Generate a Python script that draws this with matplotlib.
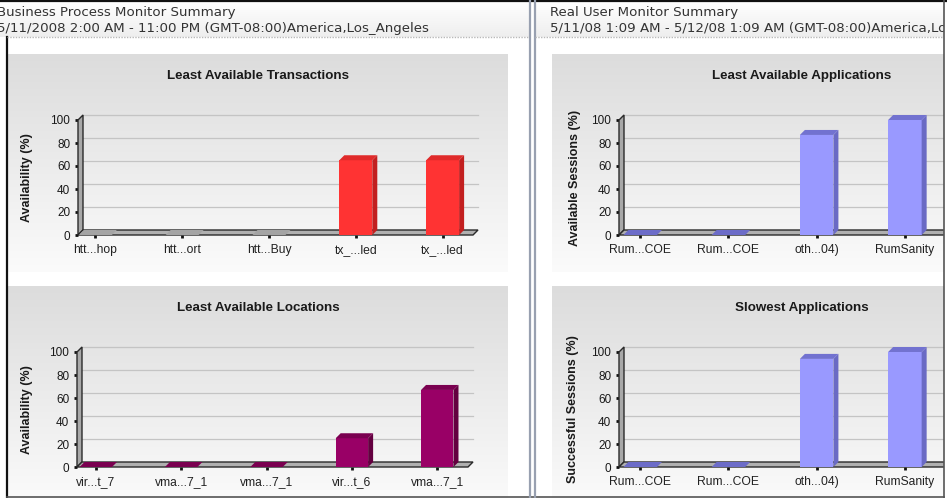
import numpy as np
import matplotlib
matplotlib.use("Agg")
import matplotlib.pyplot as plt
from matplotlib.patches import Polygon, Rectangle
from matplotlib.colors import to_rgb

# ---------------- data ----------------
txn_labels = ["htt...hop", "htt...ort", "htt...Buy", "tx_...led", "tx_...led"]
txn_values = [0, 0, 0, 65, 65]

loc_labels = ["vir...t_7", "vma...7_1", "vma...7_1", "vir...t_6", "vma...7_1"]
loc_values = [0, 0, 0, 25, 67]

app_labels = ["Rum...COE", "Rum...COE", "oth...04)", "RumSanity"]
app_values = [0, 0, 87, 100]

slow_labels = ["Rum...COE", "Rum...COE", "oth...04)", "RumSanity"]
slow_values = [0, 0, 94, 100]

y_ticks = [0, 20, 40, 60, 80, 100]

header_left = ["Business Process Monitor Summary",
               "5/11/2008 2:00 AM - 11:00 PM (GMT-08:00)America,Los_Angeles"]
header_right = ["Real User Monitor Summary",
                "5/11/08 1:09 AM - 5/12/08 1:09 AM (GMT-08:00)America,Los_Angeles"]

# ---------------- layout ----------------
W, H = 947, 498
DX, DY = 5, 5  # 3D depth in pixels

fig = plt.figure(figsize=(W / 100, H / 100), dpi=100)
fig.patch.set_facecolor("white")


def fx(x):
    return x / W


def fy(y):
    return 1 - y / H


bg = fig.add_axes([0, 0, 1, 1], zorder=0)
bg.set_xlim(0, W)
bg.set_ylim(H, 0)
bg.axis("off")


def vgrad(ax, x0, y0, x1, y1, c_top, c_bot, z=0):
    t = np.linspace(0, 1, 256)[:, None, None]
    img = (1 - t) * np.array(to_rgb(c_top)) + t * np.array(to_rgb(c_bot))
    ax.imshow(img, extent=(x0, x1, y1, y0), aspect="auto", origin="upper",
              zorder=z, interpolation="bilinear")


# headers
vgrad(bg, 0, 2, 529, 37, "#ffffff", "#eeeeee")
vgrad(bg, 535, 2, 947, 37, "#ffffff", "#eeeeee")
# chart panels
for (x0, x1) in [(8, 508), (552, 1052)]:
    vgrad(bg, x0, 54, x1, 272, "#dcdcdc", "#fbfbfb")
    vgrad(bg, x0, 286, x1, 504, "#dcdcdc", "#fbfbfb")
bg.set_xlim(0, W)
bg.set_ylim(H, 0)

hfont = dict(family="DejaVu Sans", fontsize=9.6, color="#333333", va="center", ha="left")
bg.text(-3, 12, header_left[0], **hfont)
bg.text(-3, 28, header_left[1], **hfont)
bg.text(550, 12, header_right[0], **hfont)
bg.text(550, 28, header_right[1], **hfont)

RED = dict(front="#ff3333", side="#c21f1f", top="#e02a2a", zero="#a4a4a4")
PURPLE = dict(front="#990066", side="#640040", top="#7a0050", zero="#7a0050")
BLUE = dict(front="#9999ff", side="#6a6ac4", top="#7272d0", zero="#6c6cc8")

charts = [
    dict(labels=txn_labels, values=txn_values, title="Least Available Transactions",
         ylabel="Availability (%)", px=(78, 473, 120, 235), xlim=(-0.2, 4.35),
         col=RED, title_xy=(258, 76), ylab_x=27),
    dict(labels=loc_labels, values=loc_values, title="Least Available Locations",
         ylabel="Availability (%)", px=(77, 468, 352, 467), xlim=(-0.22, 4.36),
         col=PURPLE, title_xy=(258, 308), ylab_x=27),
    dict(labels=app_labels, values=app_values, title="Least Available Applications",
         ylabel="Available Sessions (%)", px=(619, 1024, 120, 235), xlim=(-0.24, 4.35),
         col=BLUE, title_xy=(802, 76), ylab_x=575),
    dict(labels=slow_labels, values=slow_values, title="Slowest Applications",
         ylabel="Successful Sessions (%)", px=(619, 1024, 352, 467), xlim=(-0.24, 4.35),
         col=BLUE, title_xy=(802, 308), ylab_x=573),
]

BW = 0.38

for ch in charts:
    x0, x1, y100, y0 = ch["px"]
    ax = fig.add_axes([fx(x0), fy(y0), (x1 - x0) / W, (y0 - y100) / H], zorder=2)
    xl, xr = ch["xlim"]
    ax.set_xlim(xl, xr)
    ax.set_ylim(0, 100)
    ax.patch.set_visible(False)
    for s in ax.spines.values():
        s.set_visible(False)
    ddx = DX * (xr - xl) / (x1 - x0)
    ddy = DY * 100 / (y0 - y100)

    # back-wall grid lines
    for v in y_ticks[1:]:
        ax.plot([xl + ddx, xr + ddx], [v + ddy, v + ddy], color="#c4c4c4",
                lw=0.9, zorder=1, clip_on=False)
    # left wall
    ax.add_patch(Polygon([(xl, 0), (xl, 100), (xl + ddx, 100 + ddy), (xl + ddx, ddy)],
                         closed=True, fc="#a8a8a8", ec="#2a2a2a", lw=1.0,
                         zorder=2, clip_on=False))
    # floor
    ax.add_patch(Polygon([(xl, 0), (xr, 0), (xr + ddx, ddy), (xl + ddx, ddy)],
                         closed=True, fc="#b0b0b0", ec="#2a2a2a", lw=1.0,
                         zorder=2, clip_on=False))

    c = ch["col"]
    xs = np.arange(len(ch["values"]))
    for x, v in zip(xs, ch["values"]):
        a, b = x - BW / 2, x + BW / 2
        if v > 0:
            ax.bar(x, v, BW, color=c["front"], zorder=4, clip_on=False, lw=0)
            ax.add_patch(Polygon([(b, 0), (b + ddx, ddy), (b + ddx, v + ddy), (b, v)],
                                 closed=True, fc=c["side"], ec="none", zorder=4, clip_on=False))
            ax.add_patch(Polygon([(a, v), (b, v), (b + ddx, v + ddy), (a + ddx, v + ddy)],
                                 closed=True, fc=c["top"], ec="none", zorder=4, clip_on=False))
        else:
            ax.add_patch(Polygon([(a, 0), (b, 0), (b + ddx, ddy), (a + ddx, ddy)],
                                 closed=True, fc=c["zero"], ec="none", zorder=4, clip_on=False))

    ax.set_xticks(xs)
    ax.set_xticklabels(ch["labels"], family="Liberation Sans", fontsize=8.7, color="#222222")
    ax.set_yticks(y_ticks)
    ax.set_yticklabels([str(t) for t in y_ticks], family="Liberation Sans", fontsize=8.5,
                       color="#1a1a1a")
    ax.tick_params(axis="y", length=2.5, width=2, color="#111111", pad=3)
    ax.tick_params(axis="x", length=2.5, width=2, color="#111111", pad=4)

    fig.text(fx(ch["title_xy"][0]), fy(ch["title_xy"][1]), ch["title"],
             family="Liberation Sans", fontsize=9.6, fontweight="bold",
             color="#1a1a1a", ha="center", va="center", zorder=3)
    fig.text(fx(ch["ylab_x"]), fy((y0 + y100) / 2), ch["ylabel"], rotation=90,
             family="Liberation Sans", fontsize=9, fontweight="bold",
             color="#1a1a1a", ha="center", va="center", zorder=3)

# ---------------- overlay: borders ----------------
ov = fig.add_axes([0, 0, 1, 1], zorder=10)
ov.set_xlim(0, W)
ov.set_ylim(H, 0)
ov.axis("off")
ov.patch.set_visible(False)
ov.add_patch(Rectangle((944, 0), 10, H, fc="white", ec="none"))
ov.plot([0, W], [1, 1], color="#111111", lw=1.6)
ov.plot([7, 7], [37, H], color="#111111", lw=1.6)
ov.plot([943.5, 943.5], [0, H], color="#555555", lw=1.2)
ov.plot([7, 943.5], [497, 497], color="#555555", lw=1.2)
ov.plot([529.5, 529.5], [0, H], color="#98a0b0", lw=1.6)
ov.plot([534.5, 534.5], [0, H], color="#98a0b0", lw=1.6)
ov.plot([7, 529], [37, 37], color="#b8b8b8", lw=1, ls=(0, (1, 1)))
ov.plot([535, 943], [37, 37], color="#b8b8b8", lw=1, ls=(0, (1, 1)))

fig.savefig("out.png", dpi=100)
